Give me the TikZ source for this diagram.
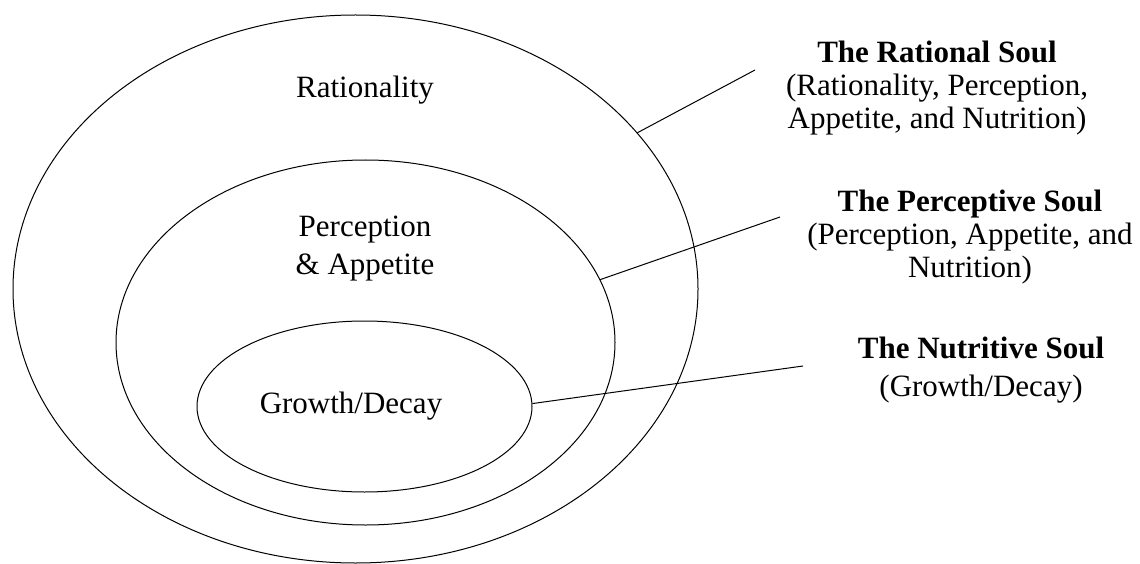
\documentclass[tikz,border=0pt]{standalone}
\usepackage{fontspec}
\setmainfont{Liberation Serif}
\usetikzlibrary{shapes.geometric}
\begin{document}
\begin{tikzpicture}[x=1pt,y=-1pt,
  soul/.style={draw, ellipse, line width=1pt, inner sep=0pt},
  lbl/.style={font=\fontsize{31}{33}\selectfont, inner sep=0pt, align=center},
  conn/.style={line width=1pt}]
\useasboundingbox (0,0) rectangle (1140,564);
\node[soul, minimum width=685pt, minimum height=548pt] (outer) at (355.5,289) {};
\node[soul, minimum width=499pt, minimum height=365pt] (middle) at (365.5,342.5) {};
\node[soul, minimum width=335pt, minimum height=171pt] (inner) at (364.5,406.5) {};
\node[lbl, anchor=base] (rat) at (365,98) {Rationality};
\node[lbl] (per) at (365,249) {Perception\\[5pt]\& Appetite};
\node[lbl, anchor=base] (gro) at (351,413) {Growth/Decay};
\node[lbl] (rsoul) at (937,88) {\textbf{The Rational Soul}\\(Rationality, Perception,\\Appetite, and Nutrition)};
\node[lbl] (psoul) at (970,237) {\textbf{The Perceptive Soul}\\(Perception, Appetite, and\\Nutrition)};
\node[lbl] (nsoul) at (981,370) {\textbf{The Nutritive Soul}\\[5pt](Growth/Decay)};
\coordinate (rend) at (755,70);
\coordinate (pend) at (780,217);
\coordinate (nend) at (803,366);
\draw[conn] (outer.29) -- (rend);
\draw[conn] (middle.15.7) -- (pend);
\draw[conn] (inner.1) -- (nend);
\end{tikzpicture}
\end{document}
